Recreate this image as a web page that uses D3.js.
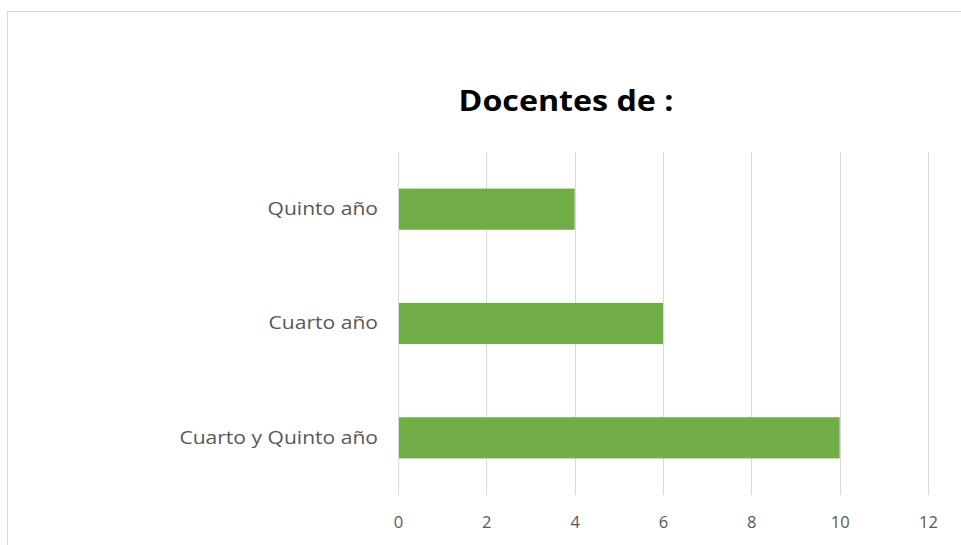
<!DOCTYPE html>
<html><head><meta charset="utf-8">
<script src="https://cdn.jsdelivr.net/npm/d3@7"></script>
<style>html,body{margin:0;padding:0;background:#fff;}svg{display:block;}</style>
</head><body>
<script>
const categories = ["Quinto año", "Cuarto año", "Cuarto y Quinto año"];
const values = [4, 6, 10];
const xTicks = [0, 2, 4, 6, 8, 10, 12];
const title = "Docentes de :";

const W = 961, H = 545;
const svg = d3.select("body").append("svg").attr("width", W).attr("height", H);
svg.append("rect").attr("x", 7.5).attr("y", 11.5).attr("width", 1000).attr("height", 700)
  .attr("fill", "#fff").attr("stroke", "#d9d9d9");

const x = d3.scaleLinear().domain([0, 12]).range([398, 928]);
const y = d3.scaleBand().domain(categories).range([152, 495]).paddingInner(0.64).paddingOuter(0.32);

function stretch(sel, k) {
  sel.each(function () {
    const w = this.getComputedTextLength();
    d3.select(this).attr("textLength", w * k).attr("lengthAdjust", "spacingAndGlyphs");
  });
}

// gridlines
svg.append("g").selectAll("line").data(xTicks).join("line")
  .attr("x1", d => Math.round(x(d)) + 0.5).attr("x2", d => Math.round(x(d)) + 0.5)
  .attr("y1", 152).attr("y2", 495)
  .attr("stroke", "#d9d9d9").attr("stroke-width", 1);

// bars
svg.append("g").selectAll("rect").data(categories).join("rect")
  .attr("x", x(0) + 1).attr("y", d => y(d))
  .attr("width", (d, i) => x(values[i]) - x(0) - 1).attr("height", y.bandwidth())
  .attr("fill", "#70ad47");

// x axis labels
const xAxis = d3.axisBottom(x).tickValues(xTicks).tickSize(0).tickPadding(0);
const gx = svg.append("g").attr("transform", "translate(0,516)").call(xAxis);
gx.select(".domain").remove();
gx.selectAll("text").attr("font-family", "Open Sans, sans-serif").attr("font-size", 16.5)
  .attr("fill", "#595959");

// y axis labels
const yAxis = d3.axisLeft(y).tickSize(0).tickPadding(20);
const gy = svg.append("g").attr("transform", "translate(398,0)").call(yAxis);
gy.select(".domain").remove();
gy.selectAll("text").attr("font-family", "Open Sans, sans-serif").attr("font-size", 18)
  .attr("fill", "#595959").call(stretch, 1.17);

svg.append("text").attr("x", 566).attr("y", 111).attr("text-anchor", "middle")
  .attr("font-family", "Open Sans, sans-serif").attr("font-weight", "bold").attr("font-size", 28)
  .attr("fill", "#000").text(title).call(stretch, 1.15);
</script>
</body></html>
